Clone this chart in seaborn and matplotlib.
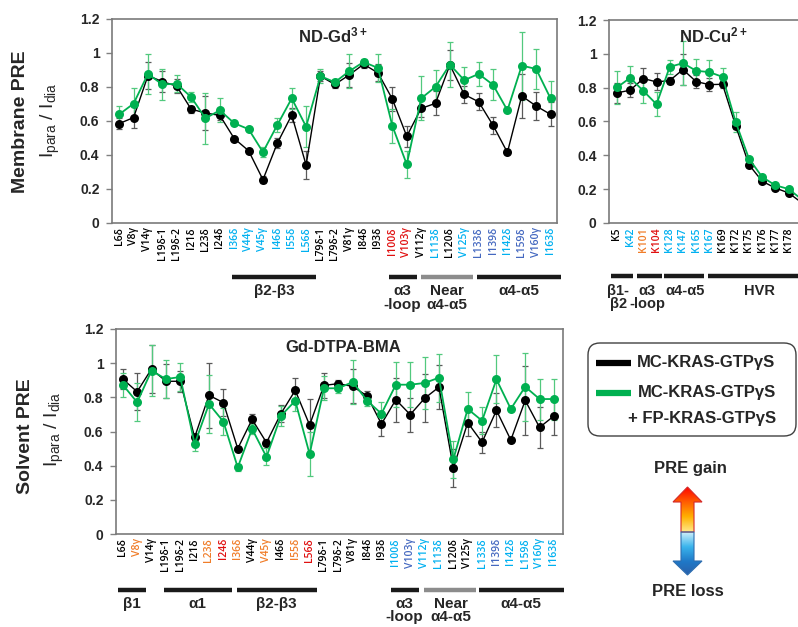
import matplotlib
matplotlib.use("Agg")
import matplotlib.pyplot as plt
import seaborn as sns
import numpy as np
from matplotlib.patches import FancyBboxPatch, Polygon
from matplotlib.lines import Line2D
from matplotlib.colors import LinearSegmentedColormap

sns.set_theme(style="white")
plt.rcParams["font.family"] = ["Liberation Sans", "DejaVu Sans"]
plt.rcParams["mathtext.fontset"] = "custom"
plt.rcParams["mathtext.rm"] = "Liberation Sans"
plt.rcParams["mathtext.bf"] = "Liberation Sans:bold"
plt.rcParams["mathtext.it"] = "Liberation Sans:italic"

# ---- data ----
methyl_labels = ["L6δ", "V8γ", "V14γ", "L19δ-1", "L19δ-2", "I21δ", "L23δ", "I24δ",
                 "I36δ", "V44γ", "V45γ", "I46δ", "I55δ", "L56δ", "L79δ-1", "L79δ-2",
                 "V81γ", "I84δ", "I93δ", "I100δ", "V103γ", "V112γ", "L113δ", "L120δ",
                 "V125γ", "L133δ", "I139δ", "I142δ", "L159δ", "V160γ", "I163δ"]
gd_label_colors = "kkkkkkkkllllllkkkkkrrklklddlddl"
sv_label_colors = "kokkkkorokokorkkkkkldllkkldllll"

gd_black = [0.585, 0.62, 0.867, 0.832, 0.805, 0.67, 0.647, 0.633, 0.497, 0.425, 0.255,
            0.47, 0.635, 0.341, 0.864, 0.815, 0.871, 0.934, 0.883, 0.729, 0.51, 0.674,
            0.704, 0.93, 0.756, 0.713, 0.575, 0.415, 0.747, 0.688, 0.639]
gd_black_err = [0.03, 0.06, 0.08, 0.06, 0.04, 0.02, 0.1, 0.03, 0.01, 0.01, 0.02, 0.03,
                0.04, 0.08, 0.03, 0.02, 0.07, 0.02, 0.05, 0.07, 0.06, 0.05, 0.07, 0.09,
                0.05, 0.05, 0.05, 0.01, 0.13, 0.08, 0.07]
gd_green = [0.639, 0.702, 0.877, 0.815, 0.819, 0.741, 0.616, 0.663, 0.587, 0.552, 0.417,
            0.577, 0.733, 0.567, 0.864, 0.828, 0.893, 0.947, 0.912, 0.571, 0.345, 0.733,
            0.801, 0.932, 0.84, 0.877, 0.813, 0.663, 0.926, 0.906, 0.733]
gd_green_err = [0.05, 0.09, 0.12, 0.09, 0.05, 0.03, 0.15, 0.07, 0.01, 0.01, 0.03, 0.04,
                0.06, 0.12, 0.04, 0.02, 0.1, 0.02, 0.08, 0.1, 0.08, 0.13, 0.1, 0.13,
                0.08, 0.07, 0.09, 0.01, 0.2, 0.12, 0.1]

sv_black = [0.907, 0.833, 0.966, 0.894, 0.894, 0.566, 0.812, 0.769, 0.5, 0.671, 0.535,
            0.704, 0.841, 0.638, 0.87, 0.88, 0.864, 0.808, 0.644, 0.786, 0.699, 0.794,
            0.86, 0.386, 0.652, 0.537, 0.724, 0.55, 0.782, 0.624, 0.691]
sv_black_err = [0.06, 0.11, 0.14, 0.1, 0.06, 0.02, 0.19, 0.08, 0.01, 0.03, 0.02, 0.05,
                0.07, 0.15, 0.075, 0.02, 0.1, 0.03, 0.07, 0.13, 0.1, 0.14, 0.13, 0.11,
                0.08, 0.06, 0.1, 0.01, 0.2, 0.12, 0.11]
sv_green = [0.874, 0.771, 0.956, 0.907, 0.919, 0.527, 0.761, 0.658, 0.39, 0.615, 0.451,
            0.691, 0.78, 0.468, 0.853, 0.853, 0.89, 0.78, 0.704, 0.874, 0.874, 0.884,
            0.915, 0.437, 0.732, 0.663, 0.905, 0.732, 0.862, 0.79, 0.79]
sv_green_err = [0.07, 0.11, 0.15, 0.11, 0.08, 0.04, 0.17, 0.08, 0.02, 0.03, 0.05, 0.06,
                0.06, 0.13, 0.07, 0.03, 0.13, 0.03, 0.07, 0.13, 0.13, 0.15, 0.14, 0.11,
                0.1, 0.08, 0.14, 0.01, 0.2, 0.12, 0.12]

cu_labels = ["K5", "K42", "K101", "K104", "K128", "K147", "K165", "K167", "K169",
             "K172", "K175", "K176", "K177", "K178", "K179"]
cu_label_colors = "klorllllkkkkkkk"
cu_black = [0.769, 0.785, 0.854, 0.834, 0.842, 0.907, 0.836, 0.818, 0.82, 0.574,
            0.345, 0.247, 0.207, 0.178, 0.12]
cu_black_err = [0.06, 0.04, 0.06, 0.05, 0.02, 0.09, 0.04, 0.04, 0.02, 0.02, 0.01,
                0.01, 0.01, 0.01, 0.01]
cu_green = [0.801, 0.858, 0.781, 0.702, 0.923, 0.945, 0.9, 0.892, 0.864, 0.596,
            0.381, 0.272, 0.223, 0.201, 0.14]
cu_green_err = [0.1, 0.07, 0.07, 0.07, 0.04, 0.13, 0.07, 0.07, 0.05, 0.06, 0.01,
                0.01, 0.01, 0.01, 0.01]

# region bars: (label, bar start, bar end, label x, colour) in residue-index units
gd_groups = [("β2-β3", 7.85, 13.7, 10.8, "k"), ("α3\n-loop", 18.75, 20.7, 19.7, "k"),
             ("Near\nα4-α5", 20.97, 24.6, 22.8, "#8c8c8c"), ("α4-α5", 24.86, 30.76, 27.8, "k")]
sv_groups = [("β1", -0.33, 1.62, 0.65, "k"), ("α1", 2.87, 7.6, 5.2, "k"),
             ("β2-β3", 7.95, 13.5, 10.7, "k"), ("α3\n-loop", 18.66, 20.6, 19.6, "k"),
             ("Near\nα4-α5", 20.95, 24.57, 22.8, "#8c8c8c"), ("α4-α5", 24.78, 30.69, 27.7, "k")]
cu_groups = [("β1-\nβ2", -0.45, 1.21, 0.1, "k"), ("α3\n-loop", 1.52, 3.41, 2.3, "k"),
             ("α4-α5", 3.56, 6.59, 5.2, "k"), ("HVR", 6.89, 15.5, 10.8, "k")]

label_palette = {"k": "black", "l": "#00b0f0", "d": "#4468c0", "o": "#f07c28", "r": "#e01010"}
BLACK = "black"
GREEN = "#00b050"

W, H = 798, 627
fig = plt.figure(figsize=(W / 100, H / 100), dpi=100)


def px_axes(left, top, right, bottom):
    return fig.add_axes([left / W, 1 - bottom / H, (right - left) / W, (bottom - top) / H])


def panel(ax, labels, colors, bk, bk_err, gr, gr_err, xlim, groups, bar_y, txt_y, gsize=11):
    x = np.arange(len(labels))
    ax.errorbar(x, bk, yerr=bk_err, fmt="none", ecolor="#5a5a5a", elinewidth=0.9,
                capsize=2.5, capthick=0.9, zorder=1)
    ax.errorbar(x, gr, yerr=gr_err, fmt="none", ecolor="#52c97e", elinewidth=0.9,
                capsize=2.5, capthick=0.9, zorder=1)
    sns.lineplot(x=x, y=bk, ax=ax, color=BLACK, marker="o", markersize=6.5,
                 markeredgewidth=0, linewidth=1.0, zorder=2)
    sns.lineplot(x=x, y=gr, ax=ax, color=GREEN, marker="o", markersize=6.5,
                 markeredgewidth=0, linewidth=1.3, zorder=3)
    ax.set_xlim(*xlim)
    ax.set_ylim(0, 1.2)
    ax.set_yticks([0, 0.2, 0.4, 0.6, 0.8, 1.0, 1.2])
    ax.set_yticklabels(["0", "0.2", "0.4", "0.6", "0.8", "1", "1.2"],
                       fontweight="bold", fontsize=10)
    shown = x[x <= xlim[1]]
    ax.set_xticks(shown)
    ax.set_xticklabels([labels[i] for i in shown], rotation=90, fontsize=7.5,
                       family=["Open Sans", "DejaVu Sans"], fontweight="semibold")
    for lbl, c in zip(ax.get_xticklabels(), colors):
        lbl.set_color(label_palette[c])
    ax.tick_params(axis="x", length=0, pad=3)
    ax.tick_params(axis="y", left=True, direction="out", length=4, width=1,
                   color="#808080", pad=5)
    for s in ax.spines.values():
        s.set_color("#7a7a7a")
        s.set_linewidth(1.2)
    ax.set_xlabel("")
    ax.set_ylabel("")
    tr = ax.get_xaxis_transform()
    for name, a, b, lx, c in groups:
        ax.plot([a, b], [bar_y, bar_y], transform=tr, color=c, lw=3.2,
                solid_capstyle="butt", clip_on=False)
        ax.text(lx, txt_y, name, transform=tr, ha="center", va="top",
                fontsize=gsize, fontweight="bold", linespacing=0.95, clip_on=False)


ax1 = px_axes(112, 19, 557, 223)
panel(ax1, methyl_labels, gd_label_colors, gd_black, gd_black_err, gd_green, gd_green_err,
      (-0.5, 30.45), gd_groups, -0.265, -0.30)

ax2 = px_axes(609, 20, 800.4, 223)
panel(ax2, cu_labels, cu_label_colors, cu_black, cu_black_err, cu_green, cu_green_err,
      (-0.6, 13.9), cu_groups, -0.261, -0.30, gsize=10.5)

ax3 = px_axes(116, 329, 563, 534)
panel(ax3, methyl_labels, sv_label_colors, sv_black, sv_black_err, sv_green, sv_green_err,
      (-0.47, 30.63), sv_groups, -0.273, -0.305)

# ---- overlay for free text, legend and arrow ----
ov = fig.add_axes([0, 0, 1, 1])
ov.set_xlim(0, W)
ov.set_ylim(H, 0)
ov.axis("off")
ov.patch.set_alpha(0)

ov.text(333, 35, r"ND-Gd$^{\mathbf{3+}}$", ha="center", va="center", fontsize=12, fontweight="bold")
ov.text(713, 35, r"ND-Cu$^{\mathbf{2+}}$", ha="center", va="center", fontsize=12, fontweight="bold")
ov.text(343, 347, "Gd-DTPA-BMA", ha="center", va="center", fontsize=12, fontweight="bold")

ov.text(21, 122, "Membrane PRE", rotation=90, ha="center", va="center", fontsize=14, fontweight="bold")
ov.text(50, 120, r"I$_{\mathrm{para}}$ / I$_{\mathrm{dia}}$", rotation=90, ha="center",
        va="center", fontsize=14)
ov.text(26, 436, "Solvent PRE", rotation=90, ha="center", va="center", fontsize=14, fontweight="bold")
ov.text(54, 429, r"I$_{\mathrm{para}}$ / I$_{\mathrm{dia}}$", rotation=90, ha="center",
        va="center", fontsize=14)

# legend
box = FancyBboxPatch((588, 343), 208, 93, boxstyle="round,pad=0,rounding_size=12",
                     fc="white", ec="#404040", lw=1.0)
ov.add_patch(box)
ov.add_line(Line2D([596, 631], [363, 363], color=BLACK, lw=4.5, solid_capstyle="butt"))
ov.add_line(Line2D([596, 631], [393, 393], color=GREEN, lw=4.5, solid_capstyle="butt"))
ov.text(637, 363, "MC-KRAS-GTPγS", ha="left", va="center", fontsize=12, fontweight="bold")
ov.text(776, 393, "MC-KRAS-GTPγS", ha="right", va="center", fontsize=12, fontweight="bold")
ov.text(776, 418, "+ FP-KRAS-GTPγS", ha="right", va="center", fontsize=12, fontweight="bold")

# PRE gain / loss arrow with gradients
ov.text(690, 469, "PRE gain", ha="center", va="center", fontsize=12, fontweight="bold")
ov.text(688, 591, "PRE loss", ha="center", va="center", fontsize=12, fontweight="bold")

up = Polygon([(687.5, 487), (702, 502), (694, 502), (694, 532), (681, 532), (681, 502),
              (673, 502)], closed=True, fc="none", ec="#d42a2a", lw=0.8, zorder=5)
down = Polygon([(681, 532), (694, 532), (694, 561), (702, 561), (687.5, 575), (673, 561),
                (681, 561)], closed=True, fc="none", ec="#2f6fb0", lw=0.8, zorder=5)
ov.add_patch(up)
ov.add_patch(down)
warm = LinearSegmentedColormap.from_list("warm", ["#ff0000", "#ff5a00", "#ffb000", "#ffe98a"])
cool = LinearSegmentedColormap.from_list("cool", ["#cdeefa", "#3ab4ec", "#1f79c8", "#2a5ea8"])
grad = np.linspace(0, 1, 100).reshape(-1, 1)
im1 = ov.imshow(grad, cmap=warm, extent=(672, 703, 532, 486), origin="upper",
                aspect="auto", zorder=4)
im1.set_clip_path(up)
im2 = ov.imshow(grad, cmap=cool, extent=(672, 703, 576, 532), origin="upper",
                aspect="auto", zorder=4)
im2.set_clip_path(down)
ov.set_xlim(0, W)
ov.set_ylim(H, 0)

fig.savefig("out.png", dpi=100)
